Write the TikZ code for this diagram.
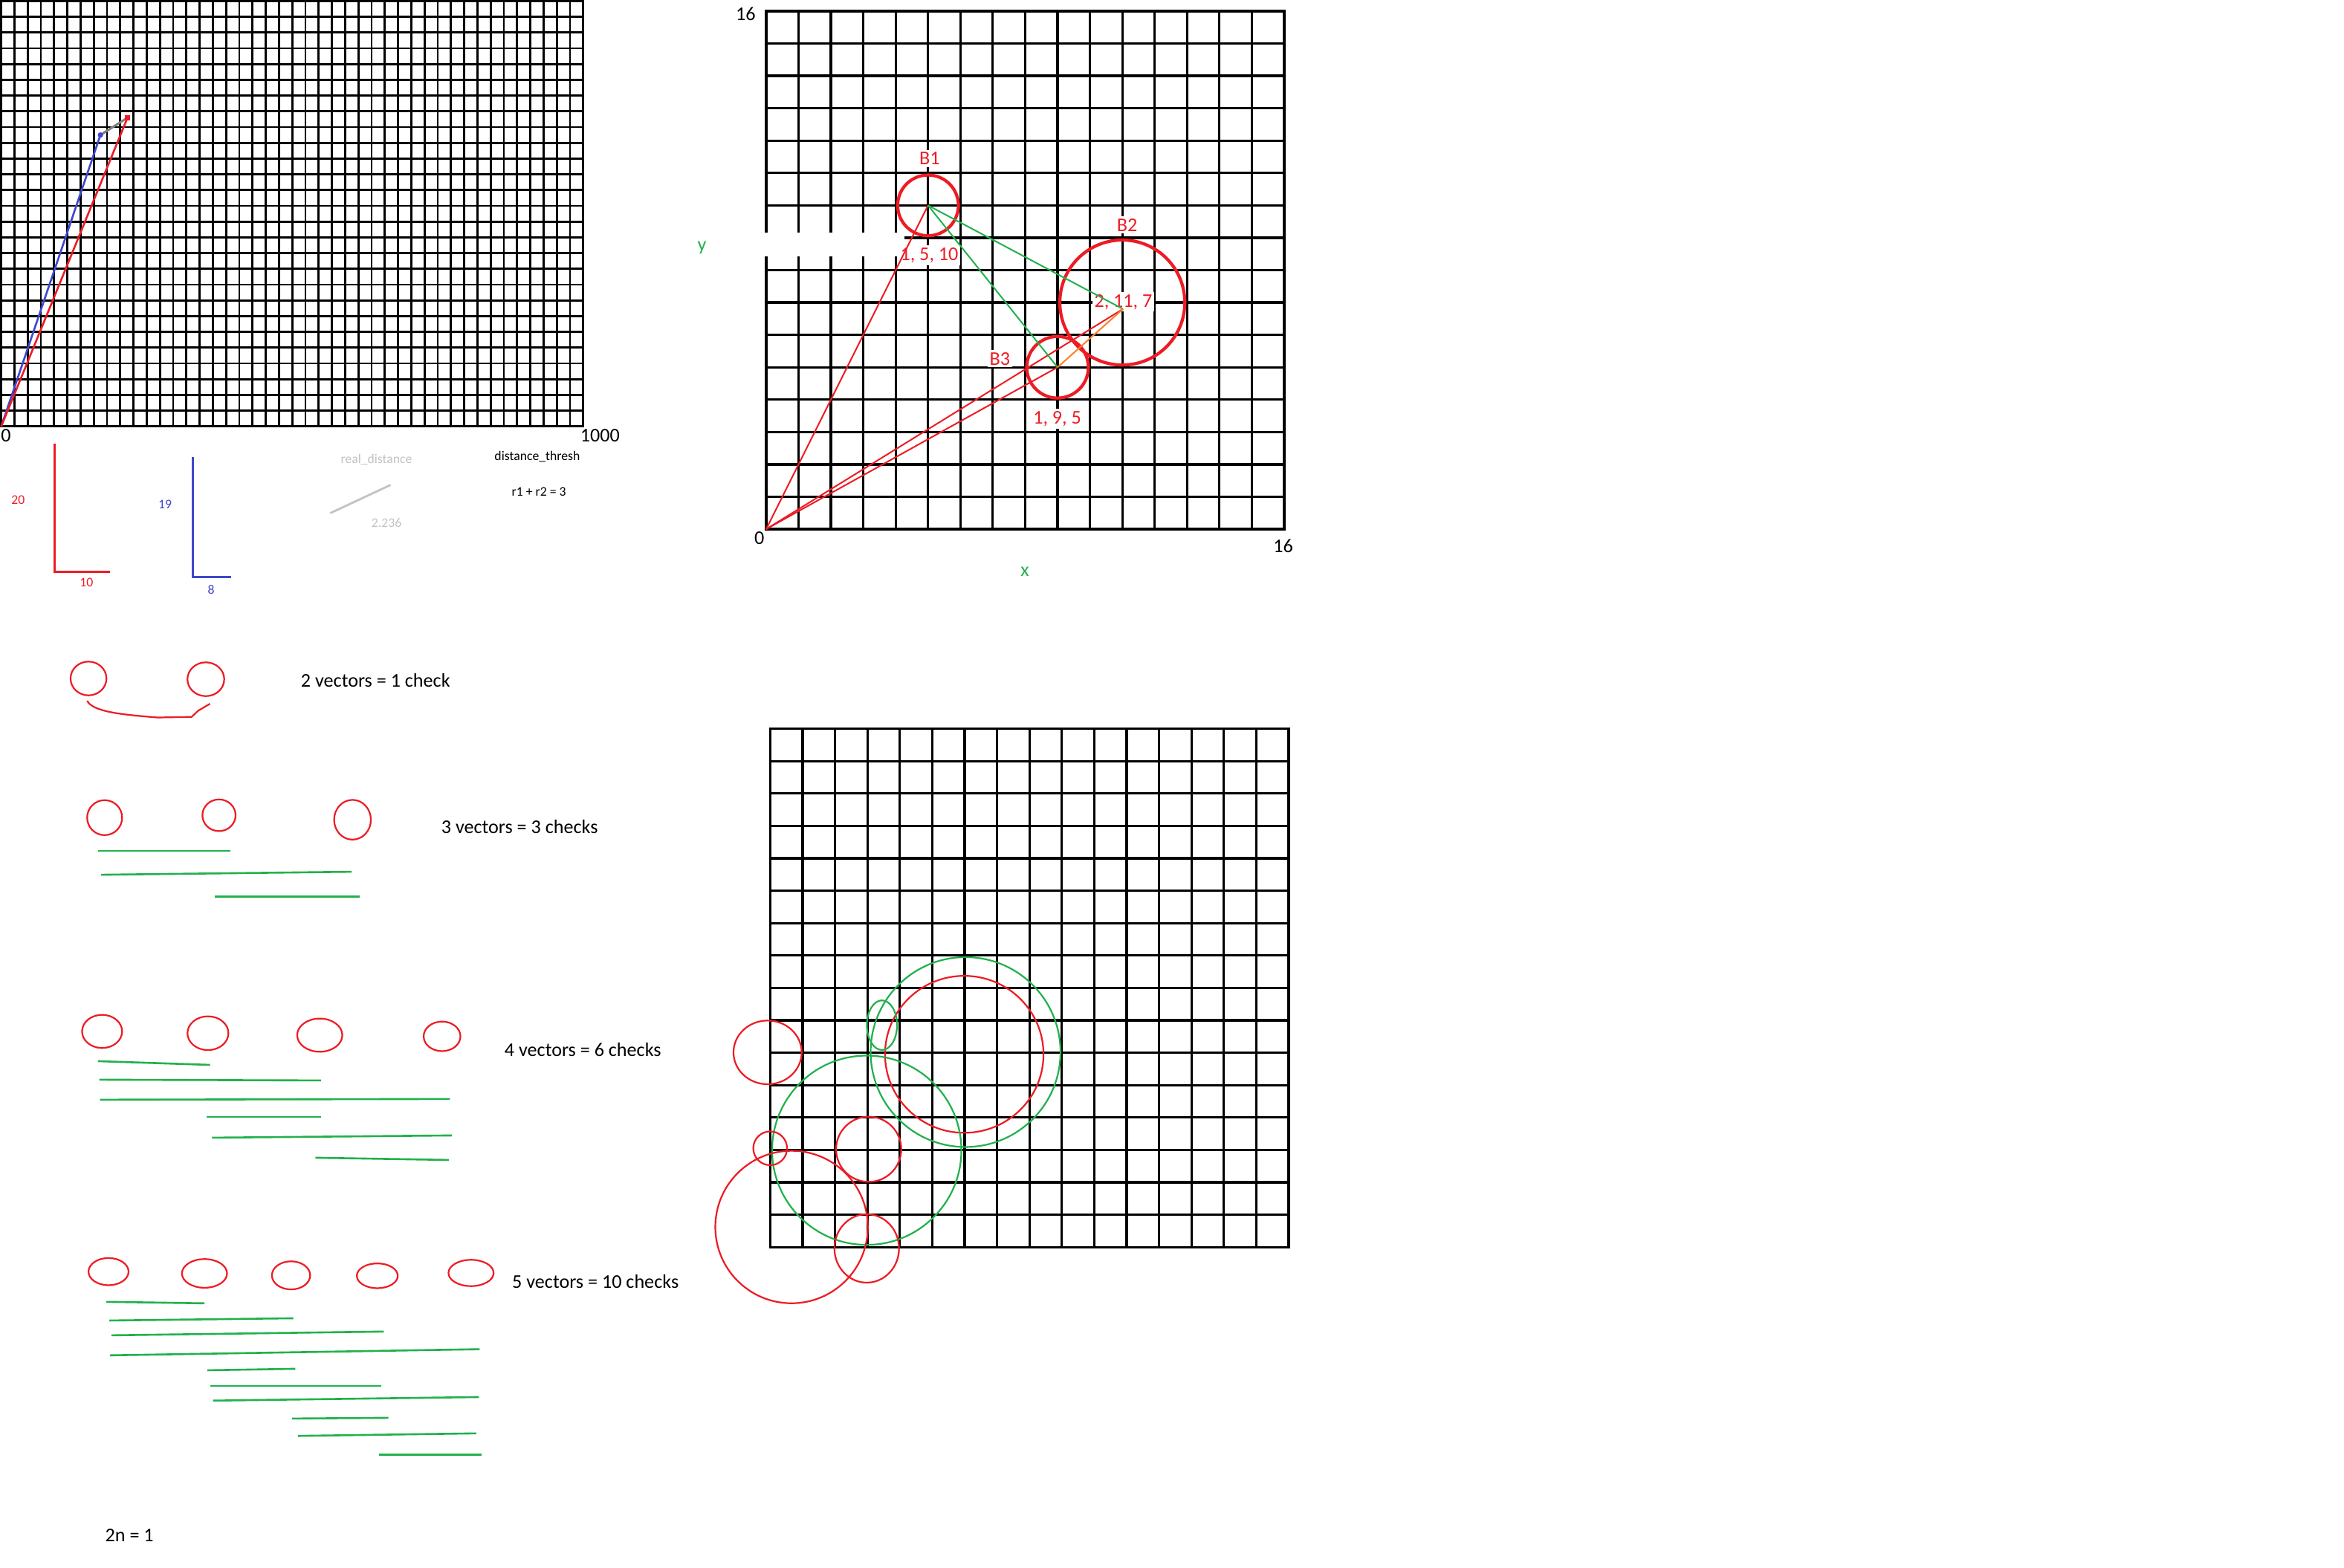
\documentclass[tikz,border=0pt]{standalone}
\usepackage{fontspec}
\setmainfont{Carlito}
\definecolor{paintred}{HTML}{ED1C24}
\definecolor{paintgreen}{HTML}{22B14C}
\definecolor{paintblue}{HTML}{3F48CC}
\definecolor{paintorange}{HTML}{FF7F27}
\definecolor{paintgray}{HTML}{7F7F7F}
\definecolor{paintsilver}{HTML}{C3C3C3}
\begin{document}
\begin{tikzpicture}[
  x=1pt, y=-1pt,
  every node/.style={inner sep=1pt},
  bigtext/.style={font=\fontsize{13}{15}\selectfont},
  smalltext/.style={font=\fontsize{8.8}{10}\selectfont},
  gridline/.style={draw=black, line width=1.6pt, line cap=rect},
  finegrid/.style={draw=black, line width=1.4pt, line cap=rect},
  ring/.style={draw=paintred, line width=2.1pt},
  thinring/.style={draw=paintred, line width=1.1pt},
  greenring/.style={draw=paintgreen, line width=1.1pt},
  redpen/.style={draw=paintred, line width=1pt},
  greenpen/.style={draw=paintgreen, line width=1pt},
  checkline/.style={draw=paintgreen, line width=1.3pt},
  bubblelabel/.style={bigtext, text=paintred, fill=white, inner sep=1.5pt}
]
\useasboundingbox (0,0) rectangle (1568,1048.5);
\fill[white] (0,0) rectangle (1568,1048.5);

\begin{scope}[shift={(0.8,285.3)}, x=8.85pt, y=10.54pt]
  \foreach \i in {0,...,44} \draw[finegrid] (\i,0) -- (\i,27);
  \foreach \j in {0,...,27} \draw[finegrid] (0,\j) -- (44,\j);
  \coordinate (P0) at (0,0);
  \coordinate (Pb) at (7.5,18.5);
  \coordinate (Pr) at (9.55,19.6);
  \draw[paintblue, line width=1.3pt] (P0) -- (Pb);
  \draw[paintred, line width=1.3pt] (P0) -- (Pr);
  \draw[paintgray, line width=1.5pt] (Pb) -- (Pr);
  \node[circle, fill=paintblue, minimum size=3.6pt, inner sep=0] (Bdot) at (Pb) {};
  \node[fill=paintred, minimum size=3.6pt, inner sep=0] (Rsq) at (Pr) {};
\end{scope}
\node[bigtext, anchor=west] (Xmin) at (-0.5,291.6) {0};
\node[bigtext] (Xmax) at (401.4,291.6) {1000};

\draw[paintred, line width=1.4pt] (36.6,296.9) -- (36.6,382.4) -- (73.5,382.4);
\node[smalltext, text=paintred] (Rh) at (12.1,334.7) {20};
\node[smalltext, text=paintred] (Rw) at (57.9,389.7) {10};
\draw[paintblue, line width=1.4pt] (129,305.7) -- (129,386) -- (154.4,386);
\node[smalltext, text=paintblue] (Bh) at (110.4,337.5) {19};
\node[smalltext, text=paintblue] (Bw) at (141.2,394.3) {8};
\draw[paintsilver, line width=1.4pt] (220.9,343.3) -- (261.3,324.4);
\node[smalltext, text=paintsilver] (Real) at (251.8,307.3) {real\_distance};
\node[smalltext, text=paintsilver] (RealVal) at (258.6,350) {2.236};
\node[smalltext] (Thresh) at (359.4,305.7) {distance\_thresh};
\node[smalltext] (ThreshVal) at (360.5,328.9) {r1 + r2 = 3};

\begin{scope}[shift={(512.5,354)}, x=21.66pt, y=21.66pt]
  \foreach \i in {0,...,16} \draw[gridline] (\i,0) -- (\i,16);
  \foreach \j in {0,...,16} \draw[gridline] (0,\j) -- (16,\j);
  \fill[white] (-0.12,8.43) rectangle (4.27,9.17);
  \coordinate (O) at (0,0);
  \coordinate (B1) at (5,10);
  \coordinate (B2c) at (11,7);
  \coordinate (B2) at (11.02,6.8);
  \coordinate (B3) at (9,5);
  \node[bigtext] (Ymax) at (-0.63,15.91) {16};
  \node[bigtext] (Orig) at (-0.21,-0.28) {0};
  \node[bigtext] (Xend) at (15.97,-0.52) {16};
  \node[bigtext, text=paintgreen] (Xax) at (7.99,-1.31) {x};
  \node[bigtext, text=paintgreen] (Yax) at (-1.98,8.7) {y};
  \node[bubblelabel] (B1lab) at (5.05,11.45) {B1};
  \node[bubblelabel] (B1val) at (5.04,8.46) {1, 5, 10};
  \node[bubblelabel] (B2lab) at (11.15,9.39) {B2};
  \node[bubblelabel] (B2val) at (11.03,7.02) {2, 11, 7};
  \node[bubblelabel] (B3lab) at (7.22,5.26) {B3};
  \node[bubblelabel] (B3val) at (8.99,3.41) {1, 9, 5};
  \draw[ring] (B1) circle[radius=20.3pt];
  \draw[ring] (B2c) circle[radius=41.8pt];
  \draw[ring] (B3) circle[radius=20.6pt];
  \draw[redpen] (O) -- (B1);
  \draw[redpen] (O) -- (B2);
  \draw[redpen] (O) -- (B3);
  \draw[greenpen] (B1) -- (B2);
  \draw[greenpen] (B1) -- (B3);
  \draw[draw=paintorange, line width=1pt] (B3) -- (B2);
\end{scope}

\begin{scope}[shift={(515.2,834.3)}, x=21.675pt, y=21.675pt]
  \foreach \i in {0,...,16} \draw[gridline] (\i,0) -- (\i,16);
  \foreach \j in {0,...,16} \draw[gridline] (0,\j) -- (16,\j);
  \draw[greenring] (6.03,6.02) circle[radius=63.5pt];
  \draw[thinring] (5.99,5.95) circle[x radius=53pt, y radius=52.5pt];
  \draw[greenring] (3.45,6.85) circle[x radius=10.1pt, y radius=16.6pt];
  \draw[thinring] (-0.08,6.01) circle[x radius=22.8pt, y radius=21.3pt];
  \draw[greenring] (2.98,2.99) circle[radius=63.3pt];
  \draw[thinring] (0,3.05) circle[radius=11.3pt];
  \draw[thinring] (3.04,3.02) circle[radius=21.8pt];
  \draw[thinring] (0.66,0.62) circle[radius=51pt];
  \draw[thinring] (2.98,-0.04) circle[x radius=21.6pt, y radius=22.9pt];
\end{scope}

\foreach \cx/\cy/\rx/\ry in {59.2/453.9/12/11.3, 137.7/454.4/12.3/11.3,
    70/547/11.7/11.7, 146.5/545.4/11.1/10.6, 235.8/548.4/12.3/13.3,
    68.3/690/13.4/11.1, 139.1/691.2/13.7/11.3, 213.9/692.5/15.1/11.1, 295.7/693.3/12.3/9.9,
    72.6/850.7/13.4/9.1, 136.8/851.9/15.1/9.6, 194.7/853.2/12.8/9.4, 252.4/853.5/13.7/8.3, 315.1/851.6/15.1/8.8}
  \draw[thinring] (\cx,\cy) ellipse[x radius=\rx, y radius=\ry];
\draw[thinring] (58.3,468.8) .. controls (62,476) and (80,478) .. (105.4,480) -- (128.2,479.6) -- (132.5,475.5) -- (140.5,470.8);

\foreach \xa/\ya/\xb/\yb in {65.5/569.2/153.9/569.2, 67.5/585.2/235.2/583.2, 143.9/599.7/240.4/599.7,
    65.5/709.9/140.5/712.4, 66.4/722.3/214.7/722.8, 66.9/735.7/300.9/735.2,
    138.2/747.2/214.7/747.2, 141.9/761.1/302.3/759.6, 211/774.5/300.3/776,
    71.2/870.9/136.8/871.9, 73.2/883.4/196.2/881.9, 74.6/893.3/256.7/890.8, 73.5/906.7/320.8/902.6,
    138.8/916.7/197.6/915.7, 140.8/927.1/255.2/927.1, 142.5/937/320.3/934.6,
    195.3/949/259.8/948.5, 199.3/960.6/318.6/958.9, 253.5/973.3/322.3/973.3}
  \draw[checkline] (\xa,\ya) -- (\xb,\yb);

\node[bigtext] (Two) at (251.2,455) {2 vectors = 1 check};
\node[bigtext] (Three) at (347.6,553.3) {3 vectors = 3 checks};
\node[bigtext] (Four) at (389.9,702.1) {4 vectors = 6 checks};
\node[bigtext] (Five) at (398.3,857.4) {5 vectors = 10 checks};
\node[bigtext] (Rule) at (86.6,1027.2) {2n = 1};
\end{tikzpicture}
\end{document}
